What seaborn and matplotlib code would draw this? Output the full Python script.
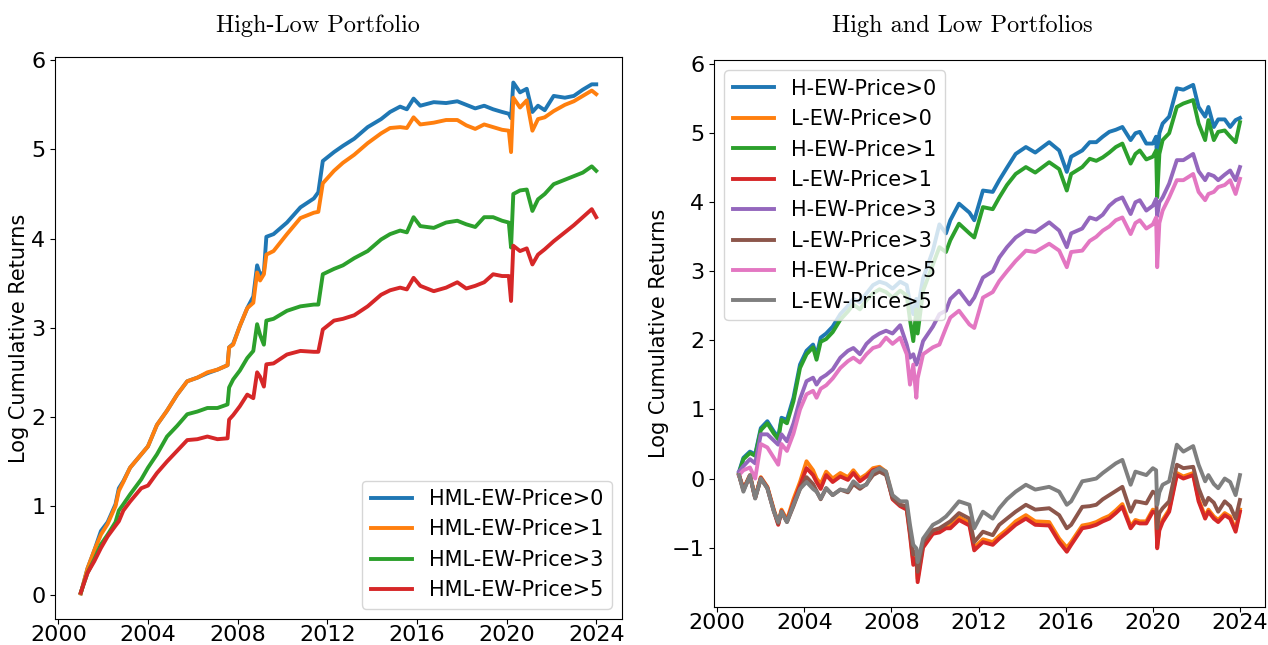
import numpy as np
import pandas as pd
import matplotlib
matplotlib.use("Agg")
import matplotlib.pyplot as plt
import seaborn as sns

# ---------------- data ----------------
years_left = [2001.0, 2001.3, 2001.6, 2001.9, 2002.2, 2002.55, 2002.7, 2002.9, 2003.2, 2003.7,
              2004.0, 2004.4, 2004.85, 2005.3, 2005.75, 2006.2, 2006.65, 2007.1, 2007.55, 2007.62,
              2007.8, 2008.1, 2008.43, 2008.7, 2008.87, 2009.0, 2009.17, 2009.28, 2009.6, 2010.2,
              2010.8, 2011.4, 2011.6, 2011.8, 2012.3, 2012.7, 2013.2, 2013.8, 2014.4, 2014.8,
              2015.25, 2015.55, 2015.85, 2016.15, 2016.75, 2017.3, 2017.8, 2018.2, 2018.6, 2019.0,
              2019.4, 2019.8, 2020.1, 2020.2, 2020.3, 2020.6, 2020.9, 2021.15, 2021.4, 2021.7,
              2022.1, 2022.6, 2023.0, 2023.4, 2023.8, 2024.0]

hml_p0 = [0.02, 0.30, 0.50, 0.72, 0.82, 1.02, 1.20, 1.28, 1.43, 1.58,
          1.67, 1.91, 2.07, 2.25, 2.40, 2.44, 2.49, 2.53, 2.58, 2.78,
          2.82, 3.02, 3.22, 3.35, 3.70, 3.60, 3.62, 4.02, 4.05, 4.18,
          4.35, 4.45, 4.52, 4.87, 4.97, 5.04, 5.12, 5.25, 5.34, 5.42,
          5.48, 5.45, 5.57, 5.49, 5.53, 5.52, 5.54, 5.50, 5.46, 5.49,
          5.45, 5.42, 5.40, 5.35, 5.75, 5.64, 5.68, 5.42, 5.49, 5.44,
          5.60, 5.58, 5.60, 5.67, 5.73, 5.73]

hml_p1 = [0.02, 0.30, 0.50, 0.68, 0.80, 1.00, 1.17, 1.27, 1.43, 1.58,
          1.67, 1.91, 2.07, 2.25, 2.40, 2.44, 2.50, 2.53, 2.58, 2.78,
          2.81, 3.02, 3.22, 3.28, 3.62, 3.53, 3.60, 3.82, 3.86, 4.05,
          4.23, 4.29, 4.30, 4.62, 4.76, 4.85, 4.94, 5.07, 5.18, 5.24,
          5.25, 5.24, 5.36, 5.28, 5.30, 5.33, 5.33, 5.27, 5.23, 5.28,
          5.25, 5.22, 5.21, 4.97, 5.58, 5.47, 5.55, 5.21, 5.34, 5.36,
          5.43, 5.50, 5.54, 5.60, 5.66, 5.62]

hml_p3 = [0.03, 0.25, 0.40, 0.57, 0.68, 0.82, 0.95, 1.02, 1.13, 1.30,
          1.43, 1.58, 1.78, 1.90, 2.03, 2.06, 2.10, 2.10, 2.14, 2.33,
          2.42, 2.52, 2.66, 2.74, 3.04, 2.92, 2.81, 3.08, 3.10, 3.19,
          3.24, 3.26, 3.26, 3.60, 3.66, 3.70, 3.78, 3.86, 3.99, 4.05,
          4.09, 4.07, 4.24, 4.14, 4.12, 4.18, 4.20, 4.16, 4.13, 4.24,
          4.24, 4.20, 4.18, 3.90, 4.50, 4.54, 4.55, 4.31, 4.44, 4.50,
          4.61, 4.66, 4.70, 4.74, 4.81, 4.76]

hml_p5 = [0.03, 0.25, 0.38, 0.53, 0.66, 0.78, 0.83, 0.95, 1.05, 1.20,
          1.23, 1.37, 1.50, 1.62, 1.74, 1.75, 1.78, 1.75, 1.76, 1.97,
          2.02, 2.12, 2.25, 2.21, 2.50, 2.45, 2.34, 2.59, 2.60, 2.70,
          2.74, 2.73, 2.73, 2.98, 3.08, 3.10, 3.14, 3.24, 3.37, 3.42,
          3.45, 3.43, 3.56, 3.47, 3.41, 3.45, 3.51, 3.44, 3.47, 3.51,
          3.60, 3.58, 3.58, 3.30, 3.92, 3.86, 3.89, 3.71, 3.82, 3.88,
          3.97, 4.07, 4.15, 4.24, 4.33, 4.24]

labels_left = ["HML-EW-Price>0", "HML-EW-Price>1", "HML-EW-Price>3", "HML-EW-Price>5"]

years_right = [2001.0, 2001.2, 2001.5, 2001.74, 2002.0, 2002.3, 2002.6, 2002.8, 2002.95, 2003.2,
               2003.5, 2003.8, 2004.1, 2004.4, 2004.56, 2004.75, 2005.0, 2005.3, 2005.65, 2006.0,
               2006.25, 2006.55, 2006.85, 2007.15, 2007.45, 2007.75, 2008.05, 2008.4, 2008.7, 2008.85,
               2009.0, 2009.14, 2009.2, 2009.45, 2009.9, 2010.2, 2010.5, 2010.7, 2011.1, 2011.58,
               2011.8, 2012.2, 2012.65, 2012.95, 2013.3, 2013.7, 2014.17, 2014.6, 2015.24, 2015.7,
               2016.05, 2016.25, 2016.76, 2017.1, 2017.4, 2017.7, 2018.0, 2018.3, 2018.6, 2018.98,
               2019.2, 2019.4, 2019.7, 2020.0, 2020.15, 2020.2, 2020.3, 2020.45, 2020.75, 2021.1,
               2021.4, 2021.85, 2022.1, 2022.4, 2022.55, 2022.8, 2023.0, 2023.3, 2023.55, 2023.8,
               2024.0]

h_p0 = [0.10, 0.30, 0.39, 0.35, 0.73, 0.83, 0.68, 0.60, 0.88, 0.85,
        1.17, 1.65, 1.85, 1.94, 1.78, 2.04, 2.10, 2.20, 2.38, 2.50,
        2.60, 2.55, 2.68, 2.80, 2.85, 2.82, 2.75, 2.85, 2.80, 2.55,
        2.38, 2.60, 2.45, 2.90, 3.30, 3.68, 3.55, 3.74, 3.98, 3.85,
        3.74, 4.17, 4.15, 4.32, 4.50, 4.70, 4.80, 4.72, 4.87, 4.75,
        4.44, 4.66, 4.75, 4.87, 4.87, 4.95, 5.02, 5.05, 5.09, 4.90,
        5.00, 5.02, 4.85, 4.85, 4.95, 4.55, 5.00, 5.14, 5.24, 5.65,
        5.63, 5.70, 5.38, 5.24, 5.38, 5.09, 5.20, 5.20, 5.09, 5.19,
        5.22]

l_p0 = [0.05, -0.15, 0.05, -0.27, 0.02, -0.12, -0.45, -0.65, -0.45, -0.60,
        -0.30, -0.05, 0.25, 0.12, 0.00, -0.08, 0.10, 0.00, 0.08, 0.02,
        0.12, 0.00, 0.06, 0.15, 0.17, 0.10, -0.28, -0.38, -0.43, -0.78,
        -1.20, -1.10, -1.45, -0.96, -0.77, -0.75, -0.68, -0.68, -0.56, -0.64,
        -1.00, -0.88, -0.92, -0.83, -0.74, -0.62, -0.53, -0.62, -0.63, -0.87,
        -1.00, -0.92, -0.68, -0.66, -0.63, -0.58, -0.54, -0.46, -0.37, -0.69,
        -0.60, -0.62, -0.62, -0.45, -0.47, -0.97, -0.72, -0.60, -0.45, 0.08,
        0.03, 0.08, -0.30, -0.55, -0.45, -0.55, -0.60, -0.50, -0.55, -0.74,
        -0.45]

h_p1 = [0.08, 0.28, 0.37, 0.33, 0.70, 0.80, 0.65, 0.57, 0.85, 0.80,
        1.12, 1.60, 1.80, 1.90, 1.72, 1.98, 2.02, 2.12, 2.30, 2.42,
        2.52, 2.45, 2.58, 2.68, 2.74, 2.70, 2.62, 2.72, 2.65, 2.30,
        1.99, 2.45, 2.10, 2.72, 3.10, 3.35, 3.28, 3.45, 3.69, 3.55,
        3.49, 3.93, 3.90, 4.07, 4.25, 4.41, 4.51, 4.43, 4.58, 4.48,
        4.17, 4.41, 4.51, 4.63, 4.60, 4.65, 4.72, 4.80, 4.85, 4.56,
        4.70, 4.75, 4.62, 4.66, 4.75, 4.07, 4.70, 4.90, 5.00, 5.38,
        5.43, 5.48, 5.14, 4.90, 5.19, 4.90, 5.02, 5.04, 4.95, 4.87,
        5.16]

l_p1 = [0.05, -0.16, 0.04, -0.28, 0.01, -0.13, -0.47, -0.67, -0.47, -0.62,
        -0.35, -0.10, 0.15, 0.05, -0.05, -0.15, 0.05, -0.05, 0.03, -0.02,
        0.08, -0.04, 0.03, 0.12, 0.15, 0.08, -0.30, -0.40, -0.45, -0.82,
        -1.25, -1.15, -1.50, -1.00, -0.80, -0.78, -0.72, -0.72, -0.60, -0.68,
        -1.04, -0.92, -0.96, -0.87, -0.78, -0.67, -0.58, -0.67, -0.68, -0.92,
        -1.06, -0.96, -0.72, -0.70, -0.67, -0.62, -0.58, -0.50, -0.41, -0.72,
        -0.63, -0.65, -0.65, -0.48, -0.50, -1.01, -0.75, -0.63, -0.48, 0.05,
        0.00, 0.05, -0.33, -0.58, -0.48, -0.58, -0.63, -0.53, -0.58, -0.77,
        -0.48]

h_p3 = [0.10, 0.18, 0.28, 0.22, 0.64, 0.64, 0.55, 0.49, 0.64, 0.54,
        0.80, 1.15, 1.41, 1.46, 1.36, 1.45, 1.50, 1.58, 1.75, 1.85,
        1.89, 1.80, 1.95, 2.04, 2.10, 2.14, 2.10, 2.22, 1.94, 1.75,
        1.80, 1.65, 1.70, 1.99, 2.20, 2.38, 2.43, 2.60, 2.72, 2.52,
        2.62, 2.91, 3.00, 3.20, 3.35, 3.49, 3.59, 3.57, 3.71, 3.59,
        3.35, 3.55, 3.62, 3.78, 3.75, 3.82, 3.95, 4.03, 4.07, 3.83,
        4.00, 4.03, 3.88, 3.95, 4.05, 3.80, 4.00, 4.07, 4.27, 4.61,
        4.61, 4.70, 4.45, 4.32, 4.41, 4.38, 4.32, 4.40, 4.46, 4.32,
        4.51]

l_p3 = [0.05, -0.17, 0.04, -0.28, 0.00, -0.14, -0.47, -0.65, -0.48, -0.63,
        -0.40, -0.15, 0.02, -0.08, -0.18, -0.30, -0.14, -0.24, -0.16, -0.20,
        -0.08, -0.15, -0.08, 0.05, 0.10, 0.05, -0.28, -0.38, -0.40, -0.75,
        -1.10, -1.05, -1.35, -0.92, -0.75, -0.72, -0.66, -0.62, -0.50, -0.58,
        -0.92, -0.77, -0.82, -0.67, -0.58, -0.48, -0.38, -0.45, -0.43, -0.53,
        -0.72, -0.67, -0.41, -0.40, -0.38, -0.30, -0.24, -0.18, -0.12, -0.48,
        -0.33, -0.34, -0.36, -0.19, -0.22, -0.72, -0.50, -0.43, -0.33, 0.20,
        0.15, 0.17, -0.14, -0.38, -0.28, -0.35, -0.48, -0.33, -0.40, -0.58,
        -0.31]

h_p5 = [0.05, 0.12, 0.16, 0.00, 0.50, 0.45, 0.30, 0.20, 0.50, 0.40,
        0.65, 1.00, 1.22, 1.27, 1.17, 1.30, 1.35, 1.45, 1.60, 1.70,
        1.75, 1.68, 1.80, 1.89, 1.92, 2.04, 1.95, 2.04, 1.80, 1.36,
        1.65, 1.17, 1.45, 1.80, 1.90, 1.94, 2.18, 2.33, 2.43, 2.23,
        2.18, 2.62, 2.70, 2.86, 3.00, 3.15, 3.30, 3.28, 3.40, 3.30,
        3.06, 3.28, 3.30, 3.44, 3.50, 3.59, 3.65, 3.74, 3.78, 3.54,
        3.70, 3.74, 3.62, 3.68, 3.78, 3.06, 3.70, 3.88, 4.07, 4.32,
        4.32, 4.41, 4.15, 4.03, 4.12, 4.15, 4.22, 4.25, 4.32, 4.12,
        4.34]

l_p5 = [0.05, -0.19, 0.05, -0.29, 0.00, -0.14, -0.48, -0.63, -0.48, -0.63,
        -0.38, -0.15, -0.05, -0.15, -0.19, -0.29, -0.14, -0.24, -0.16, -0.18,
        -0.04, -0.12, -0.09, 0.10, 0.15, 0.10, -0.24, -0.33, -0.33, -0.67,
        -0.96, -1.01, -1.21, -0.87, -0.67, -0.62, -0.55, -0.48, -0.33, -0.38,
        -0.72, -0.48, -0.58, -0.43, -0.30, -0.19, -0.09, -0.16, -0.12, -0.19,
        -0.38, -0.33, -0.04, -0.02, 0.00, 0.08, 0.15, 0.22, 0.27, -0.09,
        0.10, 0.08, 0.05, 0.15, 0.12, -0.38, -0.20, -0.09, -0.04, 0.49,
        0.39, 0.47, 0.20, -0.04, 0.05, -0.08, -0.14, 0.00, -0.05, -0.24,
        0.05]

labels_right = ["H-EW-Price>0", "L-EW-Price>0", "H-EW-Price>1", "L-EW-Price>1",
                "H-EW-Price>3", "L-EW-Price>3", "H-EW-Price>5", "L-EW-Price>5"]

title_left = "High-Low Portfolio"
title_right = "High and Low Portfolios"
ylabel = "Log Cumulative Returns"


def to_dates(years):
    out = []
    for y in years:
        base = pd.Timestamp(year=int(y), month=1, day=1)
        out.append(base + pd.to_timedelta((y - int(y)) * 365.25, unit="D"))
    return pd.to_datetime(out)


# ---------------- figure ----------------
W, H = 1268, 645
fig = plt.figure(figsize=(W / 100, H / 100), dpi=100)
palette = sns.color_palette("tab10")
FS = 15
TFS = 16
LW = 2.8

ax1 = fig.add_axes([55 / W, 1 - 619 / H, 567 / W, 562 / H])
ax2 = fig.add_axes([714 / W, 1 - 607 / H, 551 / W, 547 / H])

dl = to_dates(years_left)
for i, (vals, lab) in enumerate(zip([hml_p0, hml_p1, hml_p3, hml_p5], labels_left)):
    sns.lineplot(x=dl, y=vals, ax=ax1, color=palette[i], linewidth=LW, label=lab)

dr = to_dates(years_right)
right_series = [h_p0, l_p0, h_p1, l_p1, h_p3, l_p3, h_p5, l_p5]
for i, (vals, lab) in enumerate(zip(right_series, labels_right)):
    sns.lineplot(x=dr, y=vals, ax=ax2, color=palette[i], linewidth=LW, label=lab)

for ax in (ax1, ax2):
    ax.set_xlabel("")
    ax.set_ylabel(ylabel, fontsize=FS, labelpad=1.5)
    ax.tick_params(labelsize=TFS)
    ax.tick_params(axis="x", pad=0.5)

ax1.legend(loc="lower right", fontsize=FS)
ax2.legend(loc="upper left", fontsize=FS)

fig.text(318 / W, 1 - 26 / H, title_left, ha="center", va="center",
         family="cmr10", fontsize=17.5)
fig.text(962 / W, 1 - 26 / H, title_right, ha="center", va="center",
         family="cmr10", fontsize=17.5)

fig.savefig("out.png", dpi=100)
